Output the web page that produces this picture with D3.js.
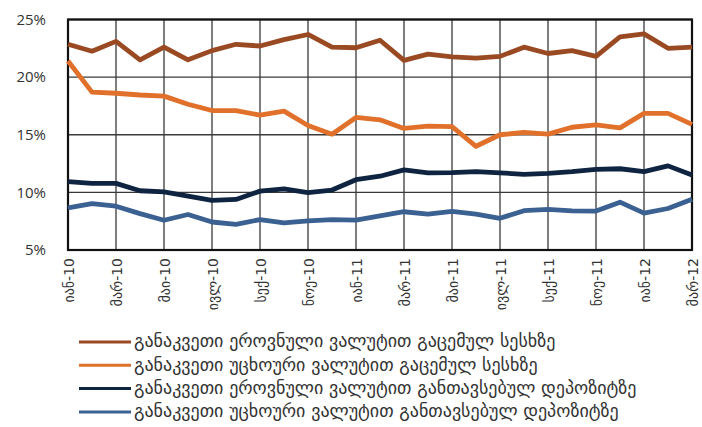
<!DOCTYPE html>
<html>
<head>
<meta charset="utf-8">
<script src="https://cdn.jsdelivr.net/npm/d3@7"></script>
<style>
  html, body { margin: 0; padding: 0; background: #fff; }
  svg { display: block; }
</style>
</head>
<body>
<svg id="chart" width="702" height="427"></svg>
<script>
// Monthly series, Jan 2010 – Mar 2012
const months = [
  "იან-10","თებ-10","მარ-10","აპრ-10","მაი-10","ივნ-10","ივლ-10","აგვ-10","სექ-10","ოქტ-10","ნოე-10","დეკ-10",
  "იან-11","თებ-11","მარ-11","აპრ-11","მაი-11","ივნ-11","ივლ-11","აგვ-11","სექ-11","ოქტ-11","ნოე-11","დეკ-11",
  "იან-12","თებ-12","მარ-12"
];

// Interest rates, %
const loansNational = [22.85, 22.25, 23.1, 21.5, 22.6, 21.5, 22.3, 22.85, 22.7, 23.25, 23.7, 22.6, 22.55,
  23.2, 21.45, 22.0, 21.75, 21.65, 21.8, 22.6, 22.05, 22.3, 21.8, 23.5, 23.75, 22.5, 22.6];
const loansForeign = [21.4, 18.7, 18.6, 18.45, 18.35, 17.65, 17.1, 17.1, 16.7, 17.05, 15.8, 15.05, 16.5,
  16.3, 15.55, 15.75, 15.7, 14.0, 15.0, 15.2, 15.05, 15.65, 15.85, 15.6, 16.85, 16.85, 15.9];
const depositsNational = [10.93, 10.78, 10.78, 10.14, 10.05, 9.68, 9.3, 9.39, 10.11, 10.31, 9.97, 10.2, 11.1,
  11.4, 11.95, 11.7, 11.72, 11.8, 11.7, 11.56, 11.65, 11.8, 12.0, 12.05, 11.8, 12.3, 11.5];
const depositsForeign = [8.65, 9.03, 8.8, 8.16, 7.58, 8.08, 7.43, 7.23, 7.64, 7.35, 7.52, 7.64, 7.6,
  7.97, 8.32, 8.12, 8.35, 8.12, 7.75, 8.41, 8.53, 8.4, 8.38, 9.15, 8.2, 8.6, 9.4];

const seriesNames = [
  "განაკვეთი ეროვნული ვალუტით გაცემულ სესხზე",
  "განაკვეთი უცხოური ვალუტით გაცემულ სესხზე",
  "განაკვეთი ეროვნული ვალუტით განთავსებულ დეპოზიტზე",
  "განაკვეთი უცხოური ვალუტით განთავსებულ დეპოზიტზე"
];
const seriesValues = [loansNational, loansForeign, depositsNational, depositsForeign];
const seriesColors = ["#9a4a22", "#e0702a", "#0e2441", "#3b6192"];

const yTicks = [5, 10, 15, 20, 25];

const svg = d3.select("#chart");
const margin = { left: 68, top: 19.5 };
const plotW = 624, plotH = 230.5;

const x = d3.scalePoint().domain(months).range([0, plotW]);
const y = d3.scaleLinear().domain([5, 25]).range([plotH, 0]);

const g = svg.append("g").attr("transform", `translate(${margin.left},${margin.top})`);

// Gridlines (every second month vertically, every 5% horizontally)
const gridMonths = months.filter((d, i) => i % 2 === 0);
g.append("g")
  .selectAll("line")
  .data(gridMonths)
  .join("line")
  .attr("x1", d => x(d)).attr("x2", d => x(d))
  .attr("y1", 0).attr("y2", plotH)
  .attr("stroke", "#3a3a3a").attr("stroke-width", 1.3);

g.append("g")
  .selectAll("line")
  .data(yTicks)
  .join("line")
  .attr("x1", 0).attr("x2", plotW)
  .attr("y1", d => y(d)).attr("y2", d => y(d))
  .attr("stroke", "#3a3a3a").attr("stroke-width", 1.3);

// Plot frame
g.append("rect")
  .attr("x", 0).attr("y", 0).attr("width", plotW).attr("height", plotH)
  .attr("fill", "none").attr("stroke", "#111").attr("stroke-width", 2.2);

// Y axis labels
const yAxis = d3.axisLeft(y).tickValues(yTicks).tickSize(0).tickPadding(22)
  .tickFormat(d => d + "%");
g.append("g").call(yAxis)
  .call(s => s.select(".domain").remove())
  .selectAll("text")
  .attr("font-family", "'Open Sans', 'Liberation Sans', sans-serif")
  .attr("font-size", 15)
  .attr("fill", "#333");

// X axis labels, rotated
const xAxis = d3.axisBottom(x).tickValues(gridMonths).tickSize(0).tickPadding(0);
g.append("g").attr("transform", `translate(0,${plotH})`).call(xAxis)
  .call(s => s.select(".domain").remove())
  .selectAll("text")
  .attr("font-family", "'DejaVu Sans', sans-serif")
  .attr("font-size", 14)
  .attr("fill", "#333")
  .attr("text-anchor", "end")
  .attr("dy", null)
  .attr("y", 0)
  .attr("transform", "translate(5,8) rotate(-90)");

// Series lines
const line = d3.line().x((d, i) => x(months[i])).y(d => y(d));
g.append("g")
  .selectAll("path")
  .data(seriesValues)
  .join("path")
  .attr("d", d => line(d))
  .attr("fill", "none")
  .attr("stroke", (d, i) => seriesColors[i])
  .attr("stroke-width", 4.8)
  .attr("stroke-linejoin", "round");

// Legend
const legend = svg.append("g").attr("transform", "translate(79,342)");
const item = legend.selectAll("g")
  .data(seriesNames)
  .join("g")
  .attr("transform", (d, i) => `translate(0,${i * 23.3})`);
item.append("line")
  .attr("x1", 0).attr("x2", 52).attr("y1", 0).attr("y2", 0)
  .attr("stroke", (d, i) => seriesColors[i]).attr("stroke-width", 3);
item.append("text")
  .attr("x", 55).attr("y", 0).attr("dy", "0.3em")
  .attr("font-family", "'DejaVu Sans', sans-serif")
  .attr("font-size", 18)
  .attr("fill", "#333")
  .text(d => d);
</script>
</body>
</html>
